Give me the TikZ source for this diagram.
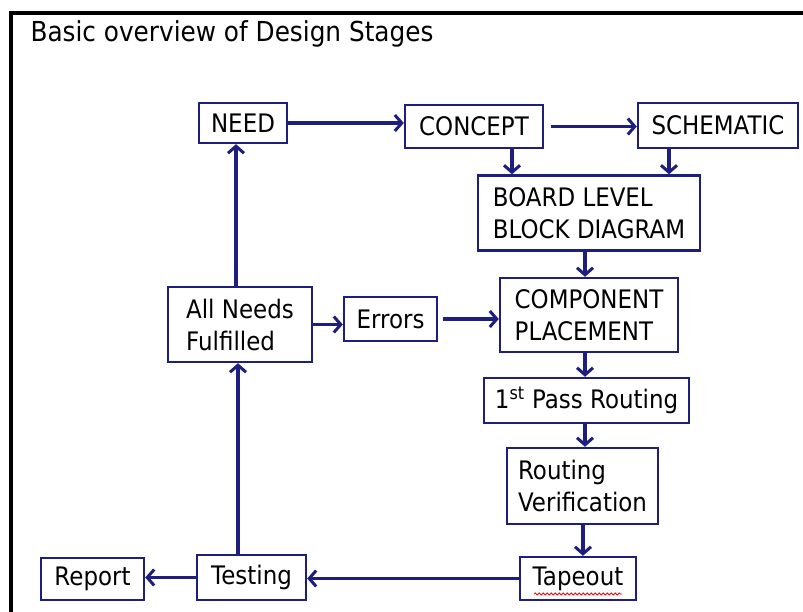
\documentclass[tikz,border=0pt]{standalone}
\usepackage{fontspec}
\setmainfont{DejaVu Sans}[FakeStretch=0.9]
\usetikzlibrary{arrows.meta,decorations.pathmorphing}
\definecolor{navy}{HTML}{1E1E7E}
\tikzset{
  box/.style={draw=navy, line width=2.4pt, align=left, inner sep=0pt, font=\fontsize{25.5}{32}\selectfont},
  arr/.style={draw=navy, line width=3.4pt, -{Straight Barb[length=7pt,width=16pt,line width=3pt]}},
}
\begin{document}
\begin{tikzpicture}[x=1pt,y=-1pt]
\useasboundingbox (0,0) rectangle (803,612);
\fill[white] (0,0) rectangle (803,612);
\draw[line width=3.5pt] (11,612) -- (11,13) -- (803,13);
\node[anchor=base west, font=\fontsize{27.5}{30}\selectfont] (title) at (27,42) {Basic overview of Design Stages};

\node[box, minimum width=88pt, minimum height=40pt] (need) at (243,123) {NEED};
\node[box, minimum width=138pt, minimum height=43pt] (concept) at (474,126.5) {CONCEPT};
\node[box, minimum width=160pt, minimum height=45pt] (schem) at (718,125.5) {SCHEMATIC};
\node[box, minimum width=222pt, minimum height=75pt] (board) at (589,213) {BOARD LEVEL\\BLOCK DIAGRAM};
\node[box, minimum width=178pt, minimum height=74pt] (comp) at (589,315) {COMPONENT\\PLACEMENT};
\node[box, minimum width=144pt, minimum height=75pt] (allneeds) at (240,324.5) {All Needs\\Fulfilled};
\node[box, minimum width=93pt, minimum height=44pt] (errors) at (390.5,319) {Errors};
\node[box, minimum width=205pt, minimum height=45pt] (pass) at (586.5,400.5) {1\textsuperscript{st} Pass Routing};
\node[box, minimum width=151pt, minimum height=76pt] (verif) at (582.5,486) {Routing\\Verification};
\node[box, minimum width=116pt, minimum height=43pt] (tapeout) at (578,578.5) {Tapeout};
\node[box, minimum width=109pt, minimum height=45pt] (testing) at (251.5,577.5) {Testing};
\node[box, minimum width=103pt, minimum height=42pt] (report) at (92.5,579) {Report};
\draw[red, line width=0.8pt, decorate, decoration={snake, amplitude=1pt, segment length=4pt}] (534,594) -- (622,594);

\coordinate (c1) at ([xshift=38pt]concept.south);
\coordinate (c2) at ([xshift=-49pt]schem.south);
\coordinate (c3) at ([xshift=-4pt]board.south);
\coordinate (c4) at ([xshift=-4pt]comp.south);
\coordinate (c5) at ([xshift=-1.5pt]pass.south);
\coordinate (c6) at ([xshift=0.5pt]verif.south);
\coordinate (c7) at ([xshift=-13.5pt]testing.north);
\coordinate (c8) at ([xshift=-4pt]allneeds.north);
\coordinate (c9) at ([xshift=7pt]concept.east);
\coordinate (c10) at ([xshift=5pt]errors.east);

\draw[arr] (need.east) -- (need.east -| concept.west);
\draw[arr] (c9) -- (c9 -| schem.west);
\draw[arr] (c1) -- (c1 |- board.north);
\draw[arr] (c2) -- (c2 |- board.north);
\draw[arr] (c3) -- (c3 |- comp.north);
\draw[arr] (allneeds.east) -- (allneeds.east -| errors.west);
\draw[arr] (c10) -- (c10 -| comp.west);
\draw[arr] (c4) -- (c4 |- pass.north);
\draw[arr] (c5) -- (c5 |- verif.north);
\draw[arr] (c6) -- (c6 |- tapeout.north);
\draw[arr] (tapeout.west) -- (tapeout.west -| testing.east);
\draw[arr] (testing.west) -- (testing.west -| report.east);
\draw[arr] (c7) -- (c7 |- allneeds.south);
\draw[arr] (c8) -- (c8 |- need.south);
\end{tikzpicture}
\end{document}
